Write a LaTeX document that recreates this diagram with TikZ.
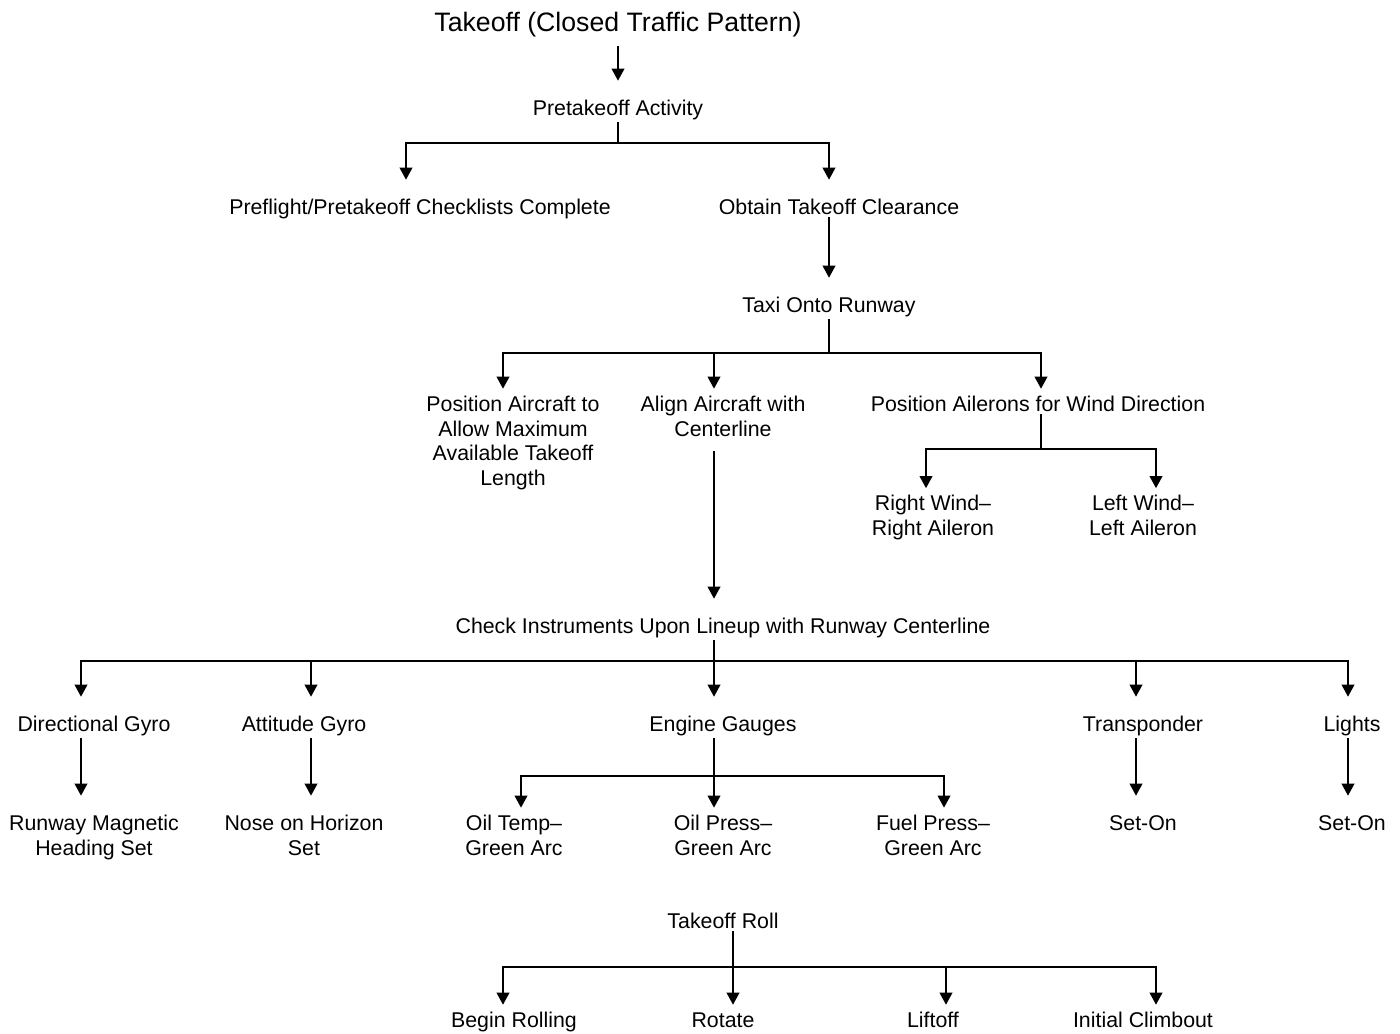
\documentclass[tikz,border=0pt]{standalone}
\usepackage{fontspec}
\setmainfont{Liberation Sans}
\usetikzlibrary{arrows.meta}
\begin{document}
\begin{tikzpicture}[x=0.75pt, y=-0.75pt, line width=1.2pt,
	arr/.style={-{Triangle[width=9.5pt,length=9pt]}},
	txt/.style={anchor=base, align=center, inner sep=1pt,
		font=\fontsize{16}{18.4}\selectfont},
	far/.style={txt, text height=24.5pt},
	near/.style={txt, text height=15.5pt},
	far2/.style={txt, text height=42.9pt},
	near2/.style={txt, text height=33.9pt}]
\useasboundingbox (0,0) rectangle (1400,1034);
\node[txt, font=\fontsize{20}{24}\selectfont] (top) at (618,31.5)
	{Takeoff (Closed Traffic Pattern)};
\node[far] (pa) at (618,115.5) {Pretakeoff Activity};
\node[far] (pfc) at (420,214.5) {Preflight/Pretakeoff Checklists Complete};
\node[far] (otc) at (839,214.5) {Obtain Takeoff Clearance};
\node[far] (taxi) at (829,312.5) {Taxi Onto Runway};
% multi-line nodes sit on their last line
\node[txt, text height=70.7pt] (posa) at (513,485.1)
	{Position Aircraft to\\Allow Maximum\\Available Takeoff\\Length};
\node[near2, text depth=9.5pt] (alc) at (723,436)
	{Align Aircraft with\\Centerline};
\node[near] (ail) at (1038,411.5) {Position Ailerons for Wind Direction};
\node[near2] (rw) at (933,535.5) {Right Wind--\\Right Aileron};
\node[near2] (lw) at (1143,535.5) {Left Wind--\\Left Aileron};
\node[far] (chk) at (723,633.5)
	{Check Instruments Upon Lineup with Runway Centerline};
\node[far] (dg) at (94,731.5) {Directional Gyro};
\node[far] (ag) at (304,731.5) {Attitude Gyro};
\node[far] (eg) at (723,731.5) {Engine Gauges};
\node[far] (tp) at (1143,731.5) {Transponder};
\node[far] (li) at (1352,731.5) {Lights};
\node[far2] (rmh) at (94,855) {Runway Magnetic\\Heading Set};
\node[far2] (noh) at (304,855) {Nose on Horizon\\Set};
\node[near2] (ot) at (514,855) {Oil Temp--\\Green Arc};
\node[near2] (op) at (723,855) {Oil Press--\\Green Arc};
\node[near2] (fp) at (933,855) {Fuel Press--\\Green Arc};
\node[far] (son1) at (1143,830.5) {Set-On};
\node[far] (son2) at (1352,830.5) {Set-On};
\node[txt] (roll) at (723,928.5) {Takeoff Roll};
\node[near] (br) at (514,1027.5) {Begin Rolling};
\node[near] (ro) at (723,1027.5) {Rotate};
\node[near] (lo) at (933,1027.5) {Liftoff};
\node[near] (ic) at (1143,1027.5) {Initial Climbout};
% pretakeoff
\draw[arr, shorten <=5pt] (top) -- (pa);
\coordinate (b1) at (618,143);
\draw (pa) -- (b1);
\foreach \x/\n in {406/pfc, 829/otc}
	\draw[arr] (b1) -| (\x,0 |- \n.north);
\draw[arr] (taxi |- otc.south) -- (taxi);
% taxi onto runway
\coordinate (b2) at (829,353);
\draw (taxi) -- (b2);
\foreach \x/\n in {503/posa, 714/alc, 1041/ail}
	\draw[arr] (b2) -| (\x,0 |- \n.north);
\coordinate (b3) at (1041,449);
\draw (b3 |- ail.south) -- (b3);
\foreach \x/\n in {926/rw, 1156/lw}
	\draw[arr] (b3) -| (\x,0 |- \n.north);
% instruments
\coordinate (b4) at (714,661);
\draw[arr] (b4 |- alc.south) -- (b4 |- chk.north);
\draw (b4 |- chk.south) -- (b4);
\foreach \x/\n in {81/dg, 311/ag, 714/eg, 1136/tp, 1348/li}
	\draw[arr] (b4) -| (\x,0 |- \n.north);
\foreach \x/\a/\b in {81/dg/rmh, 311/ag/noh, 1136/tp/son1, 1348/li/son2}
	\draw[arr] (\x,0 |- \a.south) -- (\x,0 |- \b.north);
\coordinate (b5) at (714,776);
\draw (b5 |- eg.south) -- (b5);
\foreach \x/\n in {521/ot, 714/op, 944/fp}
	\draw[arr] (b5) -| (\x,0 |- \n.north);
% takeoff roll
\coordinate (b6) at (733,967);
\draw (b6 |- roll.south) -- (b6);
\foreach \x/\n in {503/br, 733/ro, 946/lo, 1156/ic}
	\draw[arr] (b6) -| (\x,0 |- \n.north);
\end{tikzpicture}
\end{document}
